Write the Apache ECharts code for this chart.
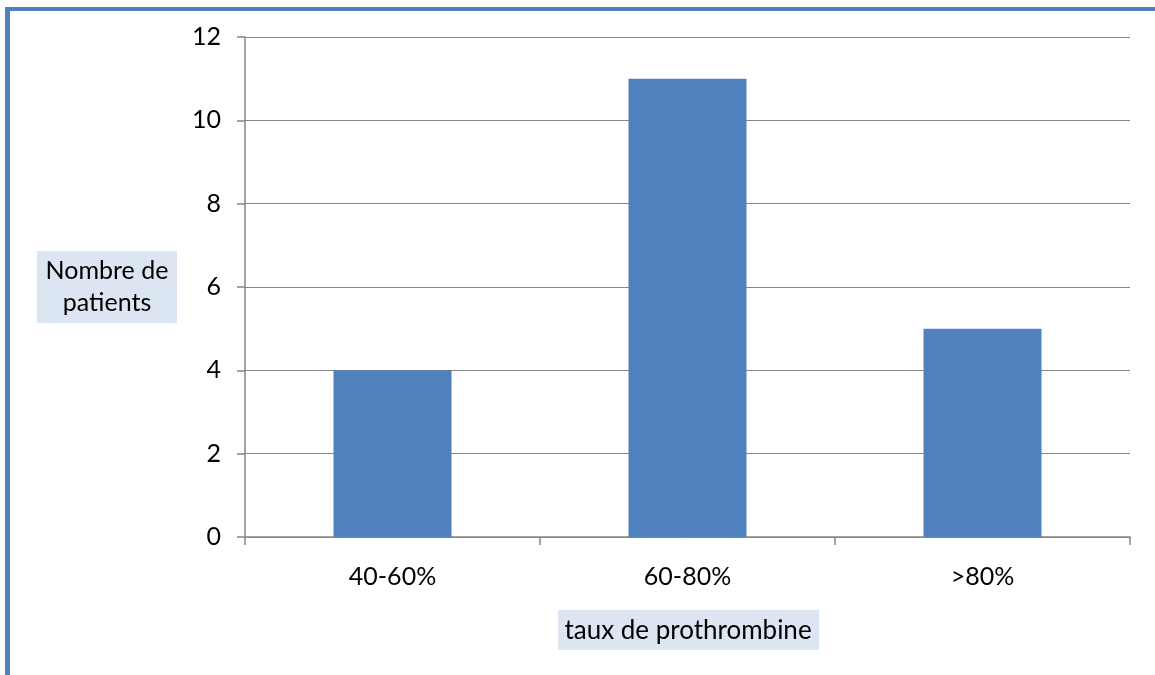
<!DOCTYPE html>
<html>
<head>
<meta charset="utf-8">
<script src="https://cdn.jsdelivr.net/npm/echarts@6/dist/echarts.min.js"></script>
<style>
html,body{margin:0;padding:0;background:#fff;}
#chart{width:1155px;height:675px;}
</style>
</head>
<body>
<div id="chart"></div>
<script>
// Patient counts by prothrombin rate range
const categories = ['40-60%', '60-80%', '>80%'];
const patients = [4, 11, 5];
const yTicks = { min: 0, max: 12, interval: 2 };

const FONT = 'Lato';
const chart = echarts.init(document.getElementById('chart'));

chart.setOption({
  animation: false,
  backgroundColor: '#ffffff',
  grid: { left: 245, right: 25, top: 37, bottom: 138, containLabel: false },
  xAxis: {
    type: 'category',
    data: categories,
    axisLine: { lineStyle: { color: '#868686', width: 1.5 } },
    axisTick: { show: true, length: 8, lineStyle: { color: '#868686', width: 1.5 } },
    axisLabel: { color: '#000', fontFamily: FONT, fontSize: 25, margin: 27 },
    splitLine: { show: false }
  },
  yAxis: {
    type: 'value',
    min: yTicks.min,
    max: yTicks.max,
    interval: yTicks.interval,
    axisLine: { show: true, lineStyle: { color: '#868686', width: 1.5 } },
    axisTick: { show: true, length: 8, lineStyle: { color: '#868686', width: 1.5 } },
    axisLabel: { color: '#000', fontFamily: FONT, fontSize: 25, margin: 24 },
    splitLine: { show: true, lineStyle: { color: '#868686', width: 1 } }
  },
  series: [{
    type: 'bar',
    data: patients,
    barWidth: '40%',
    itemStyle: { color: '#4f81bd' }
  }],
  graphic: [
    // outer frame: left and top edges
    { type: 'rect', shape: { x: 5, y: 7, width: 5, height: 700 }, style: { fill: '#4f81bd' } },
    { type: 'rect', shape: { x: 5, y: 7, width: 1160, height: 4 }, style: { fill: '#4f81bd' } },
    // y-axis title box
    { type: 'rect', shape: { x: 37, y: 251, width: 140, height: 72 }, style: { fill: '#dce6f2' } },
    { type: 'text', x: 107, y: 287, style: { text: 'Nombre de\npatients', fill: '#000', font: '25px Lato', align: 'center', verticalAlign: 'middle', lineHeight: 32 } },
    // x-axis title box
    { type: 'rect', shape: { x: 558, y: 610, width: 261, height: 40 }, style: { fill: '#dce6f2' } },
    { type: 'text', x: 688, y: 631, style: { text: 'taux de prothrombine', fill: '#000', font: '26px Lato', align: 'center', verticalAlign: 'middle' } }
  ]
});
</script>
</body>
</html>
